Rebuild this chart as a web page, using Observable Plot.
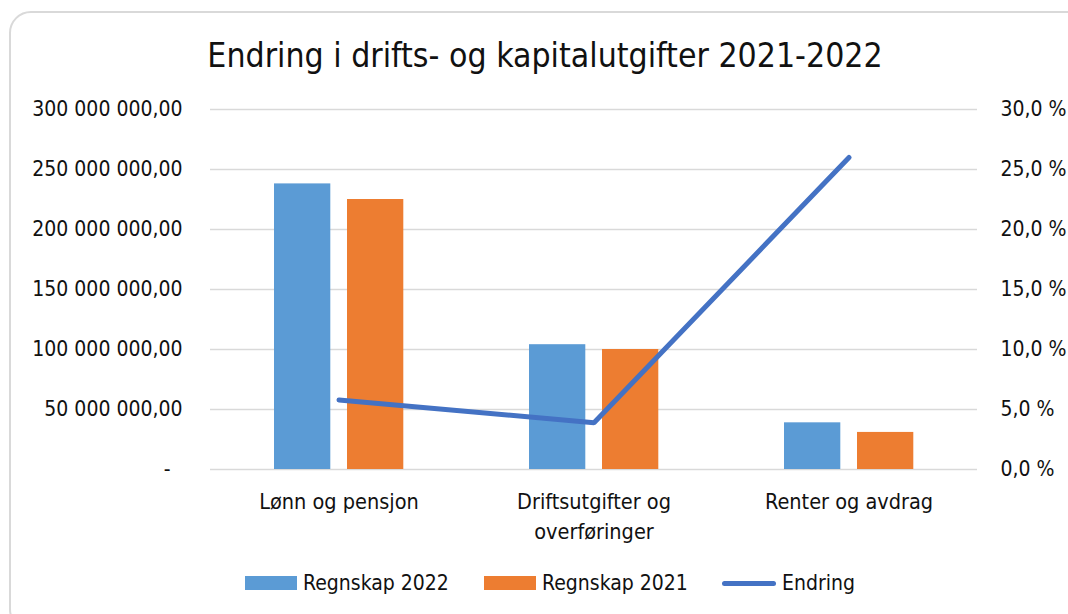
<!DOCTYPE html>
<html>
<head>
<meta charset="utf-8">
<script src="https://cdn.jsdelivr.net/npm/d3@7"></script>
<script src="https://cdn.jsdelivr.net/npm/@observablehq/plot@0.6"></script>
<style>
  html, body { margin: 0; padding: 0; background: #fff; }
  body { width: 1068px; height: 614px; position: relative; overflow: hidden;
         font-family: "DejaVu Sans Condensed", "Liberation Sans Narrow", sans-serif; color: #111; }
  #frame { position: absolute; left: 9px; top: 11px; width: 1080px; height: 620px;
           border: 2px solid #d9d9d9; border-radius: 22px; box-sizing: border-box; }
  #title { position: absolute; left: 0; top: 39px; width: 1068px; padding-left: 22px; box-sizing: border-box;
           text-align: center; font-size: 33.5px; line-height: 34px; }
  #chart { position: absolute; left: 0; top: 90px; }
  #legend { position: absolute; top: 571px; left: 0; width: 1068px; height: 24px; font-size: 21px; line-height: 24px; }
  .item { position: absolute; top: 0; display: flex; align-items: center; height: 24px; }
  .sw { width: 52px; height: 14px; margin-right: 6px; }
  .ln { width: 54px; height: 5px; border-radius: 3px; margin-right: 6px; }
</style>
</head>
<body>
<div id="frame"></div>
<div id="title">Endring i drifts- og kapitalutgifter 2021-2022</div>
<div id="chart"></div>
<div id="legend"></div>
<script>
// ---- data ----
const categories = ["Lønn og pensjon", "Driftsutgifter og overføringer", "Renter og avdrag"];
const categoryLabels = ["Lønn og pensjon", "Driftsutgifter og\noverføringer", "Renter og avdrag"];
const regnskap2022 = [238000000, 104000000, 38900000];
const regnskap2021 = [225000000, 100000000, 30900000];
const endring = [5.8, 3.9, 26.0]; // percent
const leftTicks = [0, 50000000, 100000000, 150000000, 200000000, 250000000, 300000000];
const rightTicks = [0, 5, 10, 15, 20, 25, 30]; // percent
const seriesNames = ["Regnskap 2022", "Regnskap 2021", "Endring"];
const colors = ["#5B9BD5", "#ED7D31", "#4472C4"];

// ---- table ----
const table = categories.map((c, i) => ({
  cat: c, label: categoryLabels[i], v22: regnskap2022[i], v21: regnskap2021[i], pct: endring[i]
}));
const pctScale = 300000000 / 30; // 30 % on right axis aligns with 300 000 000 on left axis

const loc = d3.formatLocale({decimal: ",", thousands: "\u00A0", grouping: [3]});
const fmtLeft = d => d === 0 ? "-\u00A0\u00A0" : loc.format(",.2f")(d);
const fmtRight = d => (d / pctScale).toFixed(1).replace(".", ",") + "\u00A0%";

const W = 1068, H = 470;
const FS = 21;
const plot = Plot.plot({
  width: W,
  height: H,
  marginLeft: 210,
  marginRight: 91,
  marginTop: 19,
  marginBottom: 91,
  style: {fontFamily: '"DejaVu Sans Condensed", "Liberation Sans Narrow", sans-serif', fontSize: FS + "px", color: "#111", background: "transparent"},
  x: {type: "band", domain: categories, padding: 0},
  y: {domain: [0, 300000000]},
  marks: [
    Plot.gridY(leftTicks, {stroke: "#d9d9d9", strokeOpacity: 1, strokeWidth: 1.5}),
    Plot.barY(table, {x: "cat", y: "v22", fill: colors[0], insetLeft: 63, insetRight: 135.7}),
    Plot.barY(table, {x: "cat", y: "v21", fill: colors[1], insetLeft: 136, insetRight: 62.7}),
    Plot.line(table, {x: "cat", y: d => d.pct * pctScale, stroke: colors[2], strokeWidth: 5, strokeLinecap: "round", strokeLinejoin: "miter"}),
    Plot.axisY({anchor: "left", ticks: leftTicks, tickFormat: fmtLeft, tickSize: 0, tickPadding: 28, fontSize: FS, label: null}),
    Plot.axisY({anchor: "right", ticks: rightTicks.map(p => p * pctScale), tickFormat: fmtRight, tickSize: 0, tickPadding: 23, fontSize: FS, label: null}),
    Plot.axisX({anchor: "bottom", tickSize: 0, tickPadding: 18, fontSize: 21.5, lineHeight: 1.4,
                tickFormat: c => categoryLabels[categories.indexOf(c)], label: null})
  ]
});
document.getElementById("chart").appendChild(plot);

// ---- legend ----
const legend = document.getElementById("legend");
const legendLeft = [245, 484, 722];
seriesNames.forEach((name, i) => {
  const it = document.createElement("div");
  it.className = "item";
  it.style.left = legendLeft[i] + "px";
  const sw = document.createElement("div");
  sw.className = i < 2 ? "sw" : "ln";
  sw.style.background = colors[i];
  const tx = document.createElement("span");
  tx.textContent = name;
  it.appendChild(sw);
  it.appendChild(tx);
  legend.appendChild(it);
});
</script>
</body>
</html>
